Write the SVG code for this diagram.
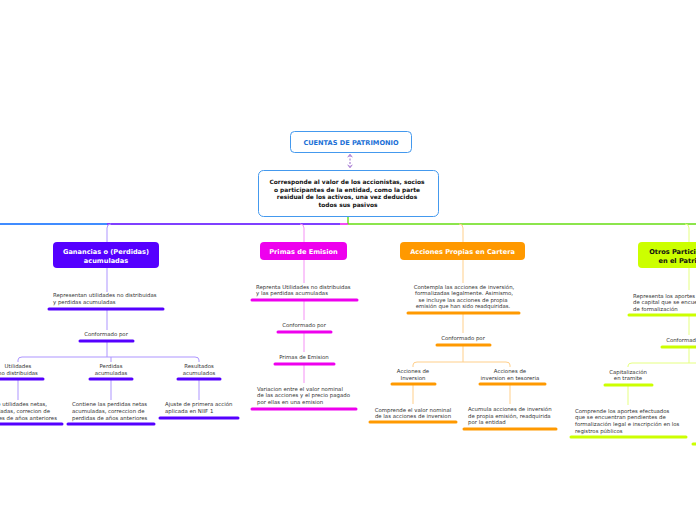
<svg xmlns="http://www.w3.org/2000/svg" width="696" height="520" viewBox="0 0 696 520">
<defs>
<style>
.t{font-family:"DejaVu Sans",Verdana,sans-serif;font-size:5.4px;fill:#333;}
.c{text-anchor:middle;}
.e{text-anchor:end;}
.h{font-family:"DejaVu Sans",Verdana,sans-serif;font-weight:bold;font-size:6.6px;text-anchor:middle;}
.ln{fill:none;stroke-width:1;}
.ul{stroke-width:3;stroke-linecap:round;}
.pu{stroke:#5500ff;} .pul{stroke:#ad95ff;}
.mg{stroke:#ee00ee;} .mgl{stroke:#f590f5;}
.or{stroke:#ff9900;} .orl{stroke:#ffcf8a;}
.yg{stroke:#ccff00;} .ygl{stroke:#e5ff80;}
</style>
<marker id="ah" viewBox="0 0 8 8" refX="4" refY="4" markerWidth="6" markerHeight="6" orient="auto-start-reverse">
<path d="M1,1 L5,4 L1,7" fill="none" stroke="#9966cc" stroke-width="1.2"/>
</marker>
</defs>
<rect width="696" height="520" fill="#fff"/>

<g id="connectors">
<line x1="348" y1="216" x2="348" y2="224" stroke="#66dd11" stroke-width="1.4"/>
<line x1="0" y1="224" x2="107" y2="224" stroke="#0066ff" stroke-width="1.4"/>
<line x1="107" y1="224" x2="340" y2="224" stroke="#5500ff" stroke-width="1.4"/>
<line x1="340" y1="224" x2="348" y2="224" stroke="#ee00ee" stroke-width="1.4"/>
<line x1="348" y1="224" x2="696" y2="224" stroke="#66dd11" stroke-width="1.4"/>
<path class="ln pul" d="M111,224 Q107,224 107,228 V242" stroke-width="1.2"/>
<path class="ln mgl" d="M300,224 Q304,224 304,228 V242" stroke-width="1.2"/>
<path class="ln orl" d="M459,224 Q463,224 463,228 V242" stroke-width="1.2"/>
<path class="ln ygl" d="M685,224 Q689,224 689,228 V242" stroke-width="1.2"/>
<line x1="350" y1="155" x2="350" y2="167" stroke="#9966cc" stroke-width="1" stroke-dasharray="2,1.5" marker-start="url(#ah)" marker-end="url(#ah)"/>

<line class="ln pul" x1="107" y1="268" x2="107" y2="292"/>
<line class="ln pul" x1="107" y1="309" x2="107" y2="330"/>
<line class="ln pul" x1="107" y1="341" x2="107" y2="357"/>
<path class="ln pul" d="M18,362 V360 Q18,357 22,357 H195 Q199,357 199,360 V362"/>
<line class="ln pul" x1="111" y1="357" x2="111" y2="362"/>
<line class="ln pul" x1="18" y1="379" x2="18" y2="400"/>
<line class="ln pul" x1="111" y1="379" x2="111" y2="400"/>
<line class="ln pul" x1="199" y1="379" x2="199" y2="400"/>

<line class="ln mgl" x1="304" y1="260" x2="304" y2="283"/>
<line class="ln mgl" x1="304" y1="300" x2="304" y2="320"/>
<line class="ln mgl" x1="304" y1="332" x2="304" y2="352"/>
<line class="ln mgl" x1="304" y1="364" x2="304" y2="383"/>

<line class="ln orl" x1="463" y1="260" x2="463" y2="283"/>
<line class="ln orl" x1="463" y1="313" x2="463" y2="333"/>
<line class="ln orl" x1="463" y1="345" x2="463" y2="362"/>
<path class="ln orl" d="M413,367 V365 Q413,362 417,362 H506 Q510,362 510,365 V367"/>
<line class="ln orl" x1="413" y1="384" x2="413" y2="404"/>
<line class="ln orl" x1="510" y1="384" x2="510" y2="404"/>

<line class="ln ygl" x1="689" y1="268" x2="689" y2="290"/>
<line class="ln ygl" x1="689" y1="315" x2="689" y2="335"/>
<line class="ln ygl" x1="689" y1="347" x2="689" y2="363"/>
<path class="ln ygl" d="M628,367 V366 Q628,363 632,363 H700"/>
<line class="ln ygl" x1="628" y1="385" x2="628" y2="405"/>
</g>

<g id="n-cuentas">
<rect x="290.5" y="131.5" width="121" height="21" rx="4" fill="#fff" stroke="#4499ee" stroke-width="1"/>
<text class="h" x="351" y="144.5" fill="#1a6fd6">CUENTAS DE PATRIMONIO</text>
</g>

<g id="n-definicion">
<rect x="258.5" y="170.5" width="180" height="46" rx="5" fill="#fff" stroke="#4499ee" stroke-width="1"/>
<text class="h" style="font-size:5.9px" fill="#111">
<tspan x="348" y="184">Corresponde al valor de los accionistas, socios</tspan>
<tspan x="348" y="191.5">o participantes de la entidad, como la parte</tspan>
<tspan x="348" y="199">residual de los activos, una  vez deducidos</tspan>
<tspan x="348" y="206.5">todos sus pasivos</tspan>
</text>
</g>

<g id="n-ganancias">
<rect x="53" y="242" width="106" height="26" rx="4" fill="#5500ff"/>
<text class="h" fill="#fff"><tspan x="106" y="254">Ganancias o (Perdidas)</tspan><tspan x="106" y="262.5">acumuladas</tspan></text>
</g>
<g id="n-gan-desc">
<text class="t"><tspan x="53" y="297">Representan utilidades no distribuidas</tspan><tspan x="53" y="304">y perdidas acumuladas</tspan></text>
<line class="ul pu" x1="49" y1="309" x2="163" y2="309"/>
</g>
<g id="n-gan-conf">
<text class="t c" x="106" y="336">Conformado por</text>
<line class="ul pu" x1="80" y1="341" x2="133" y2="341"/>
</g>
<g id="n-utilidades">
<text class="t c"><tspan x="18" y="368">Utilidades</tspan><tspan x="18" y="374.5">no distribuidas</tspan></text>
<line class="ul pu" x1="-5" y1="379" x2="43" y2="379"/>
</g>
<g id="n-perdidas">
<text class="t c"><tspan x="111" y="368">Perdidas</tspan><tspan x="111" y="374.5">acumuladas</tspan></text>
<line class="ul pu" x1="90" y1="379" x2="132" y2="379"/>
</g>
<g id="n-resultados">
<text class="t c"><tspan x="199" y="368">Resultados</tspan><tspan x="199" y="374.5">acumulados</tspan></text>
<line class="ul pu" x1="178" y1="379" x2="220" y2="379"/>
</g>
<g id="n-util-desc">
<text class="t e"><tspan x="47" y="406">Contiene utilidades netas,</tspan><tspan x="50" y="413">acumuladas, correcion de</tspan><tspan x="57" y="420">utilidades de años anteriores</tspan></text>
<line class="ul pu" x1="-5" y1="424" x2="62" y2="424"/>
</g>
<g id="n-perd-desc">
<text class="t"><tspan x="72" y="406">Contiene las perdidas netas</tspan><tspan x="72" y="413">acumuladas, correccion de</tspan><tspan x="72" y="420">perdidas de años anteriores</tspan></text>
<line class="ul pu" x1="68" y1="424" x2="154" y2="424"/>
</g>
<g id="n-res-desc">
<text class="t"><tspan x="165" y="406">Ajuste de primera acción</tspan><tspan x="165" y="413">aplicada en NIIF 1</tspan></text>
<line class="ul pu" x1="160" y1="418" x2="238" y2="418"/>
</g>

<g id="n-primas">
<rect x="260" y="242" width="87" height="18" rx="4" fill="#ee00ee"/>
<text class="h" x="303.5" y="253.5" fill="#fff">Primas de Emision</text>
</g>
<g id="n-pri-desc">
<text class="t"><tspan x="256" y="288.5">Reprenta Utilidades no distribuidas</tspan><tspan x="256" y="295">y las perdidas acumuladas</tspan></text>
<line class="ul mg" x1="252" y1="300" x2="357" y2="300"/>
</g>
<g id="n-pri-conf">
<text class="t c" x="304" y="327">Conformado por</text>
<line class="ul mg" x1="278" y1="332" x2="331" y2="332"/>
</g>
<g id="n-pri-emision">
<text class="t c" x="304" y="359">Primas de Emision</text>
<line class="ul mg" x1="275" y1="364" x2="334" y2="364"/>
</g>
<g id="n-pri-var">
<text class="t"><tspan x="257" y="390.5">Variacion entre el valor nominal</tspan><tspan x="257" y="397">de las acciones y el precio pagado</tspan><tspan x="257" y="403.5">por ellas en una emision</tspan></text>
<line class="ul mg" x1="252" y1="409" x2="356" y2="409"/>
</g>

<g id="n-acciones">
<rect x="400" y="242" width="125" height="18" rx="4" fill="#ff9900"/>
<text class="h" x="462.5" y="253.5" fill="#fff">Acciones Propias en Cartera</text>
</g>
<g id="n-acc-desc">
<text class="t c"><tspan x="464" y="288.5">Contempla las acciones de inversión,</tspan><tspan x="464" y="295">formalizadas legalmente. Asimismo,</tspan><tspan x="463" y="301.5">se incluye las acciones de propia</tspan><tspan x="463" y="308">emisión que han sido readquiridas.</tspan></text>
<line class="ul or" x1="408" y1="313" x2="519" y2="313"/>
</g>
<g id="n-acc-conf">
<text class="t c" x="463" y="340">Conformado por</text>
<line class="ul or" x1="437" y1="345" x2="490" y2="345"/>
</g>
<g id="n-acc-inv">
<text class="t c"><tspan x="413" y="373">Acciones de</tspan><tspan x="413" y="379.5">Inversion</tspan></text>
<line class="ul or" x1="392" y1="384" x2="435" y2="384"/>
</g>
<g id="n-acc-tes">
<text class="t c"><tspan x="510" y="373">Acciones de</tspan><tspan x="510" y="379.5">inversion en tesoreria</tspan></text>
<line class="ul or" x1="480" y1="384" x2="545" y2="384"/>
</g>
<g id="n-acc-inv-desc">
<text class="t c"><tspan x="413" y="411.5">Comprende el valor nominal</tspan><tspan x="413" y="418">de las acciones de inversion</tspan></text>
<line class="ul or" x1="370" y1="422" x2="456" y2="422"/>
</g>
<g id="n-acc-tes-desc">
<text class="t"><tspan x="468" y="411">Acumula acciones de inversión</tspan><tspan x="468" y="417.5">de propia emisión, readquirida</tspan><tspan x="468" y="424">por la entidad</tspan></text>
<line class="ul or" x1="464" y1="429" x2="556" y2="429"/>
</g>

<g id="n-otros">
<rect x="638" y="242" width="110" height="26" rx="4" fill="#ccff00"/>
<text class="h" fill="#111"><tspan x="689" y="254">Otros Participaciones</tspan><tspan x="689" y="262.5">en el Patrimonio</tspan></text>
</g>
<g id="n-otr-desc">
<text class="t"><tspan x="633" y="297.5">Representa los aportes efectuados</tspan><tspan x="633" y="304">de capital que se encuentran en proceso</tspan><tspan x="633" y="310.5">de formalización</tspan></text>
<line class="ul yg" x1="629" y1="315" x2="700" y2="315"/>
</g>
<g id="n-otr-conf">
<text class="t c" x="688" y="342">Conformado por</text>
<line class="ul yg" x1="662" y1="347" x2="700" y2="347"/>
</g>
<g id="n-capitalizacion">
<text class="t c"><tspan x="628" y="373.5">Capitalización</tspan><tspan x="628" y="380">en tramite</tspan></text>
<line class="ul yg" x1="605" y1="385" x2="652" y2="385"/>
</g>
<g id="n-cap-desc">
<text class="t"><tspan x="575" y="412.5">Comprende los aportes efectuados</tspan><tspan x="575" y="419">que se encuentran pendientes de</tspan><tspan x="575" y="426">formalización legal e inscripción en los</tspan><tspan x="575" y="432.5">registros públicos</tspan></text>
<line class="ul yg" x1="571" y1="437" x2="686" y2="437"/>
</g>
<g id="n-otr-extra">
<line class="ul yg" x1="693" y1="444" x2="700" y2="444"/>
</g>
</svg>
